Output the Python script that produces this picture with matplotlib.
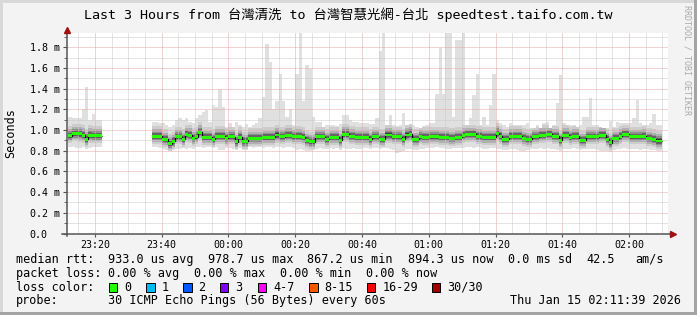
import numpy as np
import matplotlib
matplotlib.use('Agg')
import matplotlib.pyplot as plt
from matplotlib.patches import Rectangle
from matplotlib.lines import Line2D

W, H = 697, 315
MONO = ['DejaVu Sans Mono', 'Noto Sans CJK TC']

# --- data: one column per minute, x = minutes after 23:00, rtt in ms ---
seg1_start = 12
seg1_median = [0.945, 0.965, 0.967, 0.962, 0.950, 0.912, 0.950, 0.945, 0.945, 0.945]
seg1_max = [1.13, 1.12, 1.12, 1.12, 1.20, 1.42, 1.10, 1.15, 1.10, 1.10]
seg1_min = [0.84, 0.84, 0.83, 0.83, 0.84, 0.82, 0.83, 0.84, 0.84, 0.84]

seg2_start = 37
seg2_median = [
    0.940, 0.940, 0.940, 0.910, 0.910, 0.867, 0.890, 0.936, 0.936, 0.910,
    0.958, 0.950, 0.920, 0.936, 0.979, 0.930, 0.930, 0.930, 0.910, 0.940,
    0.940, 0.940, 0.920, 0.936, 0.936, 0.887, 0.930, 0.890, 0.890, 0.920,
    0.920, 0.920, 0.920, 0.930, 0.930, 0.930, 0.930, 0.952, 0.936, 0.936,
    0.950, 0.950, 0.936, 0.940, 0.940, 0.930, 0.900, 0.887, 0.887, 0.936,
    0.936, 0.936, 0.910, 0.930, 0.930, 0.930, 0.900, 0.960, 0.960, 0.940,
    0.940, 0.930, 0.930, 0.930, 0.930, 0.910, 0.936, 0.936, 0.910, 0.910,
    0.952, 0.952, 0.936, 0.936, 0.936, 0.910, 0.952, 0.960, 0.910, 0.910,
    0.936, 0.930, 0.930, 0.936, 0.936, 0.936, 0.930, 0.930, 0.930, 0.920,
    0.920, 0.930, 0.930, 0.950, 0.958, 0.958, 0.958, 0.940, 0.940, 0.930,
    0.930, 0.930, 0.930, 0.970, 0.940, 0.910, 0.910, 0.940, 0.940, 0.940,
    0.940, 0.920, 0.910, 0.910, 0.936, 0.936, 0.950, 0.950, 0.958, 0.958,
    0.940, 0.940, 0.900, 0.950, 0.950, 0.930, 0.940, 0.940, 0.900, 0.900,
    0.936, 0.936, 0.936, 0.936, 0.950, 0.950, 0.910, 0.877, 0.920, 0.920,
    0.940, 0.958, 0.958, 0.936, 0.936, 0.936, 0.936, 0.940, 0.920, 0.920,
    0.910, 0.894, 0.894]
seg2_max = [
    1.08, 1.08, 1.07, 1.07, 1.05, 1.03, 1.05, 1.10, 1.12, 1.10,
    1.12, 1.08, 1.07, 1.12, 1.14, 1.17, 1.19, 1.08, 1.24, 1.22,
    1.40, 1.22, 1.03, 1.07, 1.03, 1.08, 1.05, 1.03, 1.06, 1.03,
    1.05, 1.07, 1.12, 1.32, 1.83, 1.66, 1.20, 1.28, 1.54, 1.28,
    1.13, 1.20, 1.05, 1.54, 1.94, 1.28, 1.63, 1.59, 1.13, 1.08,
    1.08, 1.03, 1.05, 1.05, 1.05, 1.04, 1.06, 1.14, 1.14, 1.10,
    1.08, 1.08, 1.07, 1.07, 1.07, 1.06, 1.06, 1.12, 1.76, 1.94,
    1.05, 1.14, 1.05, 1.04, 1.05, 1.16, 1.05, 1.06, 1.05, 1.03,
    1.02, 1.04, 1.05, 1.07, 1.07, 1.35, 1.79, 1.35, 1.94, 1.94,
    1.13, 1.87, 1.87, 1.94, 1.05, 1.12, 1.34, 1.54, 1.05, 1.13,
    1.05, 1.24, 1.54, 1.10, 1.07, 1.05, 1.03, 1.07, 1.05, 1.05,
    1.05, 1.05, 1.07, 1.02, 1.02, 1.05, 1.02, 1.07, 1.08, 1.02,
    1.05, 1.26, 1.53, 1.07, 1.05, 1.05, 1.05, 1.03, 1.05, 1.13,
    1.13, 1.31, 1.05, 1.05, 1.03, 1.02, 1.02, 1.09, 1.03, 1.08,
    1.07, 1.07, 1.07, 1.07, 1.12, 1.29, 1.07, 1.05, 1.05, 1.07,
    1.15, 1.05, 1.05]
seg2_min = [
    0.84, 0.84, 0.83, 0.82, 0.81, 0.80, 0.81, 0.82, 0.82, 0.83,
    0.82, 0.83, 0.82, 0.84, 0.84, 0.83, 0.84, 0.84, 0.83, 0.84,
    0.81, 0.81, 0.83, 0.83, 0.82, 0.81, 0.83, 0.81, 0.81, 0.84,
    0.83, 0.84, 0.84, 0.83, 0.84, 0.84, 0.83, 0.84, 0.84, 0.83,
    0.84, 0.84, 0.83, 0.81, 0.82, 0.81, 0.80, 0.80, 0.81, 0.82,
    0.83, 0.82, 0.82, 0.83, 0.82, 0.83, 0.81, 0.83, 0.82, 0.82,
    0.83, 0.82, 0.82, 0.83, 0.83, 0.82, 0.83, 0.83, 0.82, 0.83,
    0.83, 0.82, 0.81, 0.78, 0.79, 0.80, 0.82, 0.82, 0.81, 0.81,
    0.82, 0.82, 0.83, 0.83, 0.83, 0.84, 0.83, 0.83, 0.82, 0.82,
    0.83, 0.83, 0.83, 0.83, 0.84, 0.84, 0.83, 0.84, 0.83, 0.82,
    0.82, 0.83, 0.83, 0.82, 0.82, 0.81, 0.81, 0.82, 0.82, 0.81,
    0.80, 0.80, 0.81, 0.82, 0.82, 0.82, 0.83, 0.82, 0.83, 0.82,
    0.82, 0.81, 0.80, 0.82, 0.82, 0.82, 0.83, 0.82, 0.81, 0.82,
    0.82, 0.82, 0.82, 0.81, 0.80, 0.80, 0.80, 0.79, 0.81, 0.82,
    0.82, 0.83, 0.82, 0.82, 0.82, 0.82, 0.81, 0.82, 0.82, 0.81,
    0.81, 0.80, 0.80]

# smoke bands around the median (ms below / above), darker towards the median
smoke_down = [0.075, 0.055, 0.040, 0.025, 0.012]
smoke_up = [0.095, 0.065, 0.045, 0.030, 0.015]
smoke_grays = ['#cdcdcd', '#b0b0b0', '#8e8e8e', '#666666', '#3c3c3c']

x_ticks = [20, 40, 60, 80, 100, 120, 140, 160, 180]
x_labels = ['23:20', '23:40', '00:00', '00:20', '00:40', '01:00', '01:20', '01:40', '02:00']
y_ticks = [0.0, 0.2, 0.4, 0.6, 0.8, 1.0, 1.2, 1.4, 1.6, 1.8]
y_labels = ['0.0', '0.2 m', '0.4 m', '0.6 m', '0.8 m', '1.0 m', '1.2 m', '1.4 m', '1.6 m', '1.8 m']

loss_labels = ['0', '1', '2', '3', '4-7', '8-15', '16-29', '30/30']
loss_colors = ['#26ff00', '#00b8ff', '#0059ff', '#7e00ff', '#ff00ff', '#ff5500', '#ff0000', '#a10000']

title = 'Last 3 Hours from 台灣清洗 to 台灣智慧光網-台北 speedtest.taifo.com.tw'


def fx(px):
    return px / W


def fy(py):
    return 1 - py / H


fig = plt.figure(figsize=(W / 100, H / 100), dpi=100, facecolor='#f3f3f3')
ax = fig.add_axes([fx(67), fy(233.5), 601 / W, 200.5 / H])
ax.set_facecolor('white')
ax.set_xlim(11.65, 191.65)
ax.set_ylim(0, 1.937)

for start, med, hi, lo in [(seg1_start, seg1_median, seg1_max, seg1_min),
                           (seg2_start, seg2_median, seg2_max, seg2_min)]:
    med, hi, lo = np.array(med), np.array(hi), np.array(lo)
    edges = np.arange(start, start + len(med) + 1)
    ax.stairs(hi, edges, baseline=lo, fill=True, color='#e0e0e0', lw=0, zorder=1)
    for d, u, c in zip(smoke_down, smoke_up, smoke_grays):
        top = np.minimum(med + u, hi)
        bot = np.maximum(med - d, lo)
        ax.stairs(top, edges, baseline=bot, fill=True, color=c, lw=0, zorder=1.1)
    ax.stairs(med, edges, baseline=None, color='black', lw=0.9, zorder=2.8)
    ax.stairs(med + 0.014, edges, baseline=med - 0.014, fill=True,
              color=loss_colors[0], lw=0, zorder=3)

# grid
ax.set_xticks(x_ticks)
ax.set_xticks(np.arange(15, 191, 5), minor=True)
ax.set_yticks(y_ticks)
ax.set_yticks(np.arange(0.1, 1.95, 0.2), minor=True)
ax.set_axisbelow('line')
ax.grid(which='minor', color='#cacaca', linestyle=(0, (1, 1)), lw=0.72)
ax.grid(which='major', color='#e6a6a6', linestyle=(0, (1, 1)), lw=0.72)
for s in ax.spines.values():
    s.set_visible(False)

ax.set_xticklabels(x_labels, fontfamily=MONO, fontsize=7.2)
ax.set_yticklabels(y_labels, fontfamily=MONO, fontsize=7.2)
ax.tick_params(axis='x', which='major', length=2, color='#555555', pad=3)
ax.tick_params(axis='x', which='minor', length=0)
ax.tick_params(axis='y', which='major', length=3, color='#555555', pad=23.8)
ax.tick_params(axis='y', which='minor', length=2, color='#555555')
for lbl in ax.get_yticklabels():
    lbl.set_ha('left')

# axis lines with arrows
fig.add_artist(Line2D([fx(66.7), fx(66.7)], [fy(236), fy(30)], color='#555555', lw=1.1))
fig.add_artist(Line2D([fx(62), fx(672)], [fy(233.5), fy(233.5)], color='#555555', lw=1.1))
fig.add_artist(Line2D([fx(66.7)], [fy(29.5)], marker='^', ms=4.2, color='#a01010', lw=0))
fig.add_artist(Line2D([fx(673)], [fy(233.5)], marker='>', ms=4.2, color='#a01010', lw=0))

# texts
fig.text(0.5, fy(19), title, ha='center', va='baseline', fontsize=9.6, fontfamily=MONO)
fig.text(fx(10.5), fy(133), 'Seconds', rotation=90, ha='center', va='center',
         fontsize=8.5, fontfamily=MONO)
fig.text(fx(687.5), fy(60), 'RRDTOOL / TOBI OETIKER', rotation=270, ha='center', va='center',
         fontsize=6, fontfamily=MONO, color='#aaaaaa')

LEG = dict(fontsize=8.5, fontfamily=MONO, va='baseline')
line1 = [(16, 'median rtt:'), (108, '933.0 us avg'), (208, '978.7 us max'), (307, '867.2 us min'),
         (408, '894.3 us now'), (508, '0.0 ms sd'), (586, '42.5'), (635, 'am/s')]
line2 = [(16, 'packet loss:'), (108, '0.00 % avg'), (194, '0.00 % max'), (280, '0.00 % min'),
         (366, '0.00 % now')]
for x, s in line1:
    fig.text(fx(x), fy(262.7), s, **LEG)
for x, s in line2:
    fig.text(fx(x), fy(276.7), s, **LEG)

fig.text(fx(16), fy(290.7), 'loss color:', **LEG)
box_x = [108.5, 146, 183, 220, 257.5, 309, 367, 432]
for bx, lab, col in zip(box_x, loss_labels, loss_colors):
    fig.add_artist(Rectangle((fx(bx), fy(291.7)), 8.5 / W, 8.4 / H, facecolor=col,
                             edgecolor='black', lw=0.7))
    fig.text(fx(bx + 15.5), fy(290.7), lab, **LEG)

fig.text(fx(16), fy(304), 'probe:', **LEG)
fig.text(fx(108), fy(304), '30 ICMP Echo Pings (56 Bytes) every 60s', **LEG)
fig.text(fx(681), fy(304), 'Thu Jan 15 02:11:39 2026', ha='right', fontsize=8.5,
         fontfamily=MONO, va='baseline')

# frame
fig.add_artist(Rectangle((0, 0), 2.5 / W, 1, facecolor='#d8d8d8', lw=0))
fig.add_artist(Rectangle((0, fy(2.5)), 1, 2.5 / H, facecolor='#d8d8d8', lw=0))
fig.add_artist(Rectangle((fx(694), 0), 3 / W, 1, facecolor='#a4a4a4', lw=0))
fig.add_artist(Rectangle((0, 0), 1, 3 / H, facecolor='#a4a4a4', lw=0))

fig.savefig('out.png', dpi=100, facecolor=fig.get_facecolor())
plt.close(fig)
